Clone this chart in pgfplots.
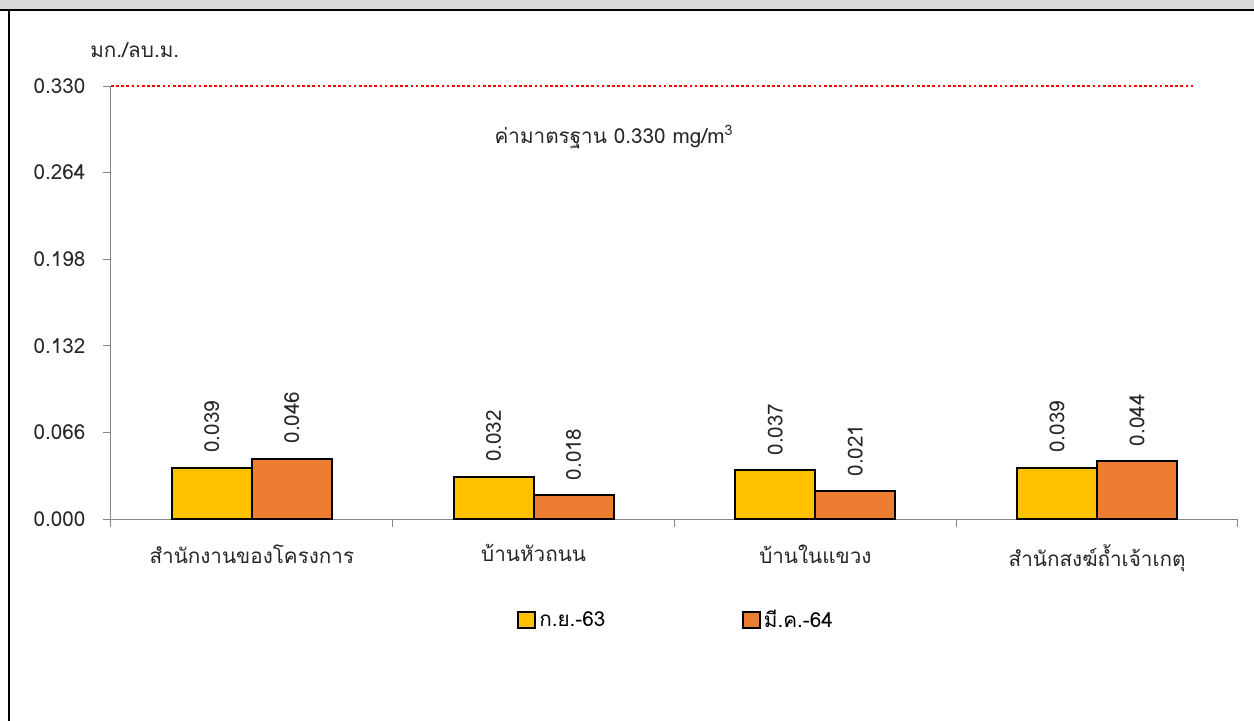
\documentclass[border=0pt]{standalone}
\usepackage{fontspec}
\setmainfont[Script=Thai]{Loma}
\usepackage{pgfplots}
\pgfplotsset{compat=1.18}
\definecolor{cYel}{HTML}{FFC000}
\definecolor{cOra}{HTML}{ED7D31}
\definecolor{axgray}{HTML}{868686}
\definecolor{hdr}{HTML}{D9D9D9}
\newcommand{\fs}{\fontsize{12.4}{14.5}\selectfont}
\begin{document}
\begin{tikzpicture}[x=0.6pt,y=0.6pt,font=\fs]
\useasboundingbox (0,0) rectangle (1254,721);
\fill[hdr] (0,711) rectangle (1254,721);
\draw[black,line width=1.7pt] (0,711) -- (1254,711);
\draw[black,line width=1.7pt] (9,0) -- (9,711);
\begin{axis}[
  at={(66.6pt,121.2pt)}, anchor=south west,
  scale only axis, width=676.2pt, height=259.8pt,
  xmin=-0.5, xmax=3.5, ymin=0, ymax=0.33,
  clip=false,
  axis x line*=bottom, axis y line*=left,
  axis line style={color=axgray, line width=0.6pt},
  ybar=0pt, bar width=48pt,
  xtick={0,1,2,3},
  xticklabels={สำนักงานของโครงการ,บ้านหัวถนน,บ้านในแขวง,สำนักสงฆ์ถ้ำเจ้าเกตุ},
  major x tick style={draw=none},
  minor xtick={-0.5,0.5,1.5,2.5,3.5},
  ytick={0,0.066,0.132,0.198,0.264,0.33},
  tick align=outside,
  major tick length=4.8pt, minor tick length=4.8pt,
  tick style={color=axgray, line width=0.6pt},
  every tick label/.append style={font=\fs, text=black!85},
  /pgf/number format/assume math mode=true,
  yticklabel style={xshift=-7pt, /pgf/number format/fixed, /pgf/number format/fixed zerofill, /pgf/number format/precision=3},
  xticklabel style={yshift=-7pt},
  legend columns=2,
  legend style={at={(0.502,-0.233)}, anchor=center, draw=none, fill=none,
    font=\fs,
    /tikz/every even column/.append style={column sep=80pt}},
  legend image code/.code={\draw[#1,line width=1.2pt] (0pt,-5pt) rectangle (10pt,5pt);},
]
\addplot[fill=cYel, draw=black, line width=1.2pt,
  nodes near coords, point meta=y,
  nodes near coords style={rotate=90, anchor=west, inner sep=0pt, inner xsep=8.5pt, text=black!85,
    /pgf/number format/fixed, /pgf/number format/fixed zerofill, /pgf/number format/precision=3}]
  coordinates {(0,0.039) (1,0.032) (2,0.037) (3,0.039)};
\addlegendentry{ก.ย.-63}
\addplot[fill=cOra, draw=black, line width=1.2pt,
  nodes near coords, point meta=y,
  nodes near coords style={rotate=90, anchor=west, inner sep=0pt, inner xsep=8.5pt, text=black!85,
    /pgf/number format/fixed, /pgf/number format/fixed zerofill, /pgf/number format/precision=3}]
  coordinates {(0,0.046) (1,0.018) (2,0.021) (3,0.044)};
\addlegendentry{มี.ค.-64}
\addplot[sharp plot, red, line width=1.6pt, dash pattern=on 1.6pt off 1.5pt, forget plot]
  coordinates {(-0.5,0.33) (3.347,0.33)};
\end{axis}
\node[anchor=west, inner sep=0pt, text=black!85] at (90,671) {มก./ลบ.ม.};
\node[inner sep=0pt, text=black!85] at (614,584) {ค่ามาตรฐาน 0.330 mg/m\textsuperscript{3}};
\end{tikzpicture}
\end{document}
